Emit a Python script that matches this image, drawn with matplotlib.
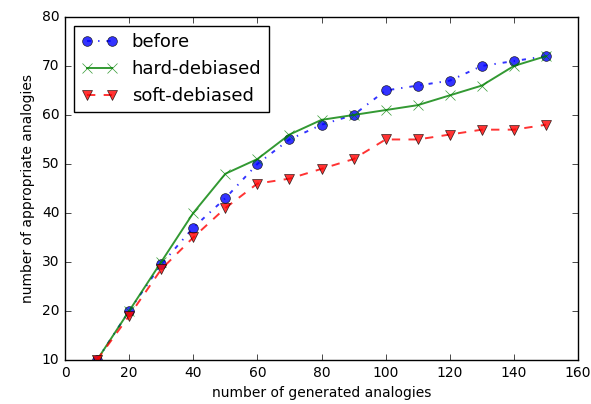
import matplotlib
matplotlib.use('Agg')
import matplotlib.pyplot as plt

plt.style.use('classic')

x = [10, 20, 30, 40, 50, 60, 70, 80, 90, 100, 110, 120, 130, 140, 150]
before = [10, 20, 29.5, 37, 43, 50, 55, 58, 60, 65, 66, 67, 70, 71, 72]
hard = [10, 20, 30, 40, 48, 51, 56, 59, 60, 61, 62, 64, 66, 70, 72]
soft = [10, 19, 28.5, 35, 41, 46, 47, 49, 51, 55, 55, 56, 57, 57, 58]

fig = plt.figure(figsize=(5.91, 4.04), dpi=100)
ax = fig.add_axes([0.110, 0.109, 0.868, 0.849])

ax.plot(x, before, 'b-.', marker='o', markersize=7, linewidth=1.4, alpha=0.8, label='before')
ax.plot(x, hard, 'g-', marker='x', markersize=7, linewidth=1.4, alpha=0.8, label='hard-debiased')
ax.plot(x, soft, 'r--', marker='v', markersize=7, linewidth=1.4, alpha=0.8, label='soft-debiased')

ax.set_xlim(0, 160)
ax.set_ylim(10, 80)
ax.tick_params(labelsize=10)
ax.set_xlabel('number of generated analogies', fontsize=10)
ax.set_ylabel('number of appropriate analogies', fontsize=10)
ax.legend(loc='upper left', fontsize=13, numpoints=2)

fig.savefig('out.png', dpi=100)
